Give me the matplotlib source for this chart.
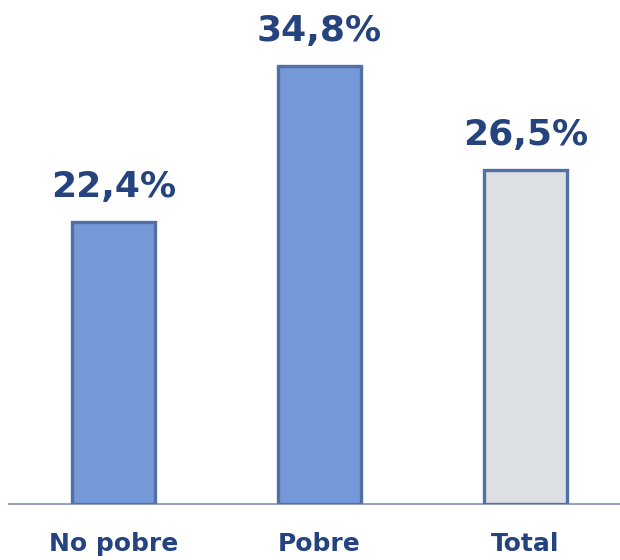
import numpy as np
import matplotlib.pyplot as plt

categories = ["No pobre", "Pobre", "Total"]
values = [22.4, 34.8, 26.5]
labels = ["22,4%", "34,8%", "26,5%"]

text_color = "#24437f"
fills = ["#7599d8", "#7599d8", "#dcdfe3"]
edge = "#5170a6"

fig = plt.figure(figsize=(6.2, 5.6), dpi=100)
ax = fig.add_axes([9 / 620, 56 / 560, 611 / 620, 504 / 560])

x = np.arange(len(categories))
ax.bar(x, values, width=0.40, color=fills, edgecolor=edge, linewidth=2.4, zorder=2)

for xi, v, lab in zip(x, values, labels):
    ax.text(xi, v + 1.4, lab, ha="center", va="bottom", fontsize=26,
            fontweight="bold", color=text_color, family="DejaVu Sans")

ax.set_xlim(-0.507, 2.459)
ax.set_ylim(0, 40)
ax.set_xticks(x)
ax.set_xticklabels(categories, fontsize=18, fontweight="bold", color=text_color)
ax.tick_params(axis="x", length=0, pad=20)
ax.set_yticks([])
for s in ["top", "right", "left"]:
    ax.spines[s].set_visible(False)
ax.spines["bottom"].set_color("#9aa3bd")
ax.spines["bottom"].set_linewidth(1.5)
ax.spines["bottom"].set_zorder(1)

fig.savefig("out.png", dpi=100)
